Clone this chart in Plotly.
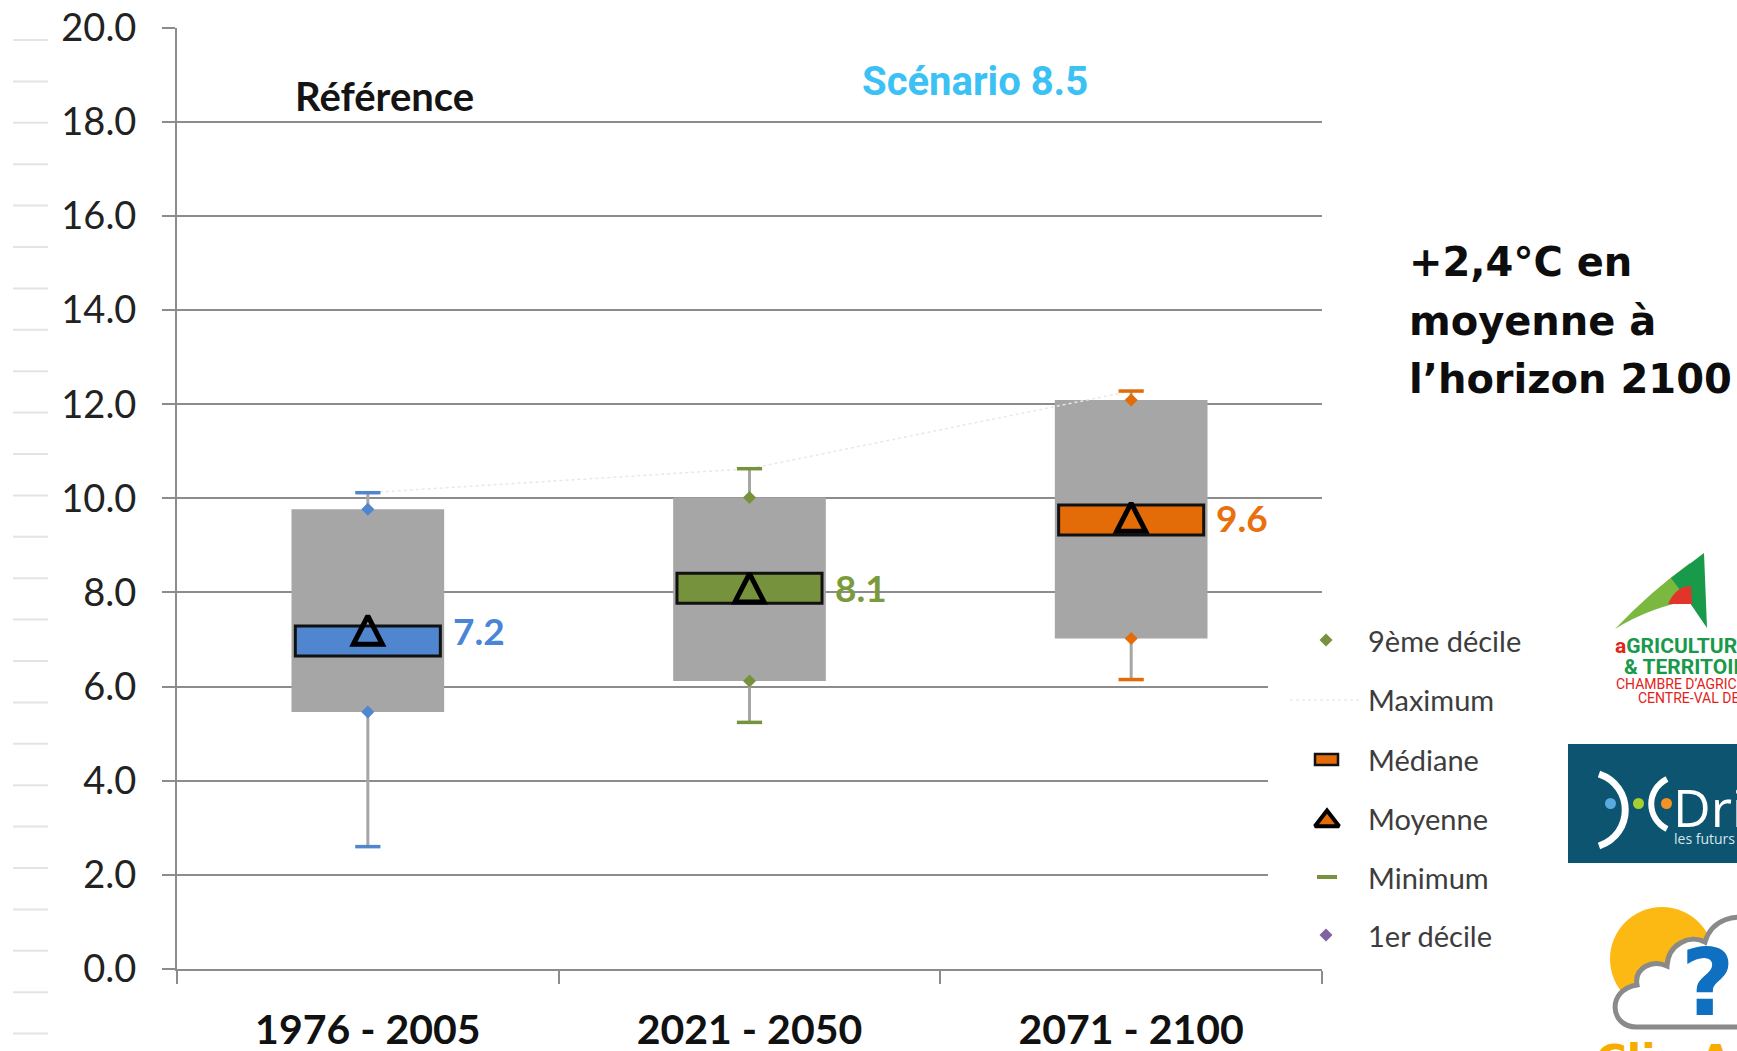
import plotly.graph_objects as go

# ---- data -------------------------------------------------------------
periods = ["1976 - 2005", "2021 - 2050", "2071 - 2100"]
minimum = [2.60, 5.24, 6.15]
decile_1 = [5.46, 6.12, 7.02]
median = [6.97, 8.09, 9.54]
mean = [7.2, 8.1, 9.6]
decile_9 = [9.77, 10.02, 12.09]
maximum = [10.12, 10.63, 12.28]

y_ticks = [0, 2, 4, 6, 8, 10, 12, 14, 16, 18, 20]
legend_labels = ["9ème décile", "Maximum", "Médiane", "Moyenne", "Minimum", "1er décile"]

# ---- styles -----------------------------------------------------------
W, H = 1737, 1051
AXIS = "#8c8c8c"
BOX_GREY = "#a6a6a6"
period_colors = ["#4f86cf", "#76923c", "#e36c09"]
label_colors = ["#4a86d6", "#7a9a3c", "#e8700f"]
MED_HALF = 0.32      # half height of the median band (value units)
TRI_HALF_W = 0.038   # half width of the mean triangle (category units)
TRI_HALF_H = 0.30    # half height of the mean triangle (value units)

xs = list(range(len(periods)))

fig = go.Figure()

# faint dotted line joining the maxima
fig.add_trace(go.Scatter(x=xs, y=maximum, mode="lines",
                         line=dict(color="#e8e8e8", width=1.5, dash="dot"),
                         hoverinfo="skip", showlegend=False))

# grey box: 1st to 9th decile
fig.add_trace(go.Bar(x=xs, y=[d9 - d1 for d1, d9 in zip(decile_1, decile_9)],
                     base=decile_1, width=0.4,
                     marker=dict(color=BOX_GREY, line=dict(width=0)),
                     hoverinfo="skip", showlegend=False))

# median band
fig.add_trace(go.Bar(x=xs, y=[2 * MED_HALF] * len(xs),
                     base=[m - MED_HALF for m in median], width=0.38,
                     marker=dict(color=period_colors, line=dict(color="#111111", width=3)),
                     hoverinfo="skip", showlegend=False))

# whiskers
wx, wy = [], []
for i in xs:
    wx += [i, i, None, i, i, None]
    wy += [minimum[i], decile_1[i], None, decile_9[i], maximum[i], None]
fig.add_trace(go.Scatter(x=wx, y=wy, mode="lines",
                         line=dict(color=BOX_GREY, width=3),
                         hoverinfo="skip", showlegend=False))

# caps at min / max
fig.add_trace(go.Scatter(x=xs + xs, y=minimum + maximum, mode="markers",
                         marker=dict(symbol="line-ew", size=18,
                                     line=dict(color=period_colors * 2, width=3.5)),
                         hoverinfo="skip", showlegend=False))

# decile dots
fig.add_trace(go.Scatter(x=xs + xs, y=decile_1 + decile_9, mode="markers",
                         marker=dict(symbol="diamond", size=10, color=period_colors * 2),
                         hoverinfo="skip", showlegend=False))

# mean triangles
tx, ty = [], []
for i, m in zip(xs, mean):
    tx += [i - TRI_HALF_W, i, i + TRI_HALF_W, i - TRI_HALF_W, i, None]
    ty += [m - TRI_HALF_H, m + TRI_HALF_H, m - TRI_HALF_H, m - TRI_HALF_H, m + TRI_HALF_H, None]
fig.add_trace(go.Scatter(x=tx, y=ty, mode="lines",
                         line=dict(color="#000000", width=5),
                         hoverinfo="skip", showlegend=False))

# mean value labels
annotations = []
for i, m in zip(xs, mean):
    annotations.append(dict(x=i, y=m, xref="x", yref="y", text=f"{m:.1f}",
                            showarrow=False, xanchor="left", yanchor="middle", xshift=83,
                            font=dict(family="Lato", size=37, color=label_colors[i], weight="bold")))

# ---- decorations on a pixel-based overlay axis -------------------------
def px_text(x, y, text, size, color, family="Lato", weight="normal", anchor="left", yshift=0):
    return dict(x=x, y=y, xref="x2", yref="y2", text=text, showarrow=False,
                xanchor=anchor, yanchor="middle", yshift=yshift,
                font=dict(family=family, size=size, color=color, weight=weight))

annotations += [
    px_text(384, 96, "Référence", 40, "#141414", weight="bold", anchor="center"),
    px_text(975, 81, "Scénario 8.5", 40, "#3cc1f4", family="Roboto", weight="bold", anchor="center"),
    px_text(1407, 262, "+2,4°C en", 40, "#0d0d0d", family="DejaVu Sans", weight="bold"),
    px_text(1407, 321, "moyenne à", 40, "#0d0d0d", family="DejaVu Sans", weight="bold"),
    px_text(1407, 379, "l’horizon 2100", 40, "#0d0d0d", family="DejaVu Sans", weight="bold"),
]

legend_rows = [640, 699, 759, 818, 877, 935]
for lab, ly in zip(legend_labels, legend_rows):
    annotations.append(px_text(1366, ly, lab, 29, "#3d3d3d"))

shapes = []
# faint ruler marks on the far left
for k in range(25):
    yy = 40 + 41.4 * k
    shapes.append(dict(type="line", xref="x2", yref="y2", x0=13, x1=48, y0=yy, y1=yy,
                       line=dict(color="#e4e4e4", width=2), layer="below"))
# white backing of the legend
shapes.append(dict(type="rect", xref="x2", yref="y2", x0=1268, x1=1330, y0=612, y1=955,
                   fillcolor="white", line=dict(width=0), layer="below"))
# legend swatches
shapes.append(dict(type="line", xref="x2", yref="y2", x0=1290, x1=1362, y0=700, y1=700,
                   line=dict(color="#ececec", width=1.5, dash="dot"), layer="below"))
shapes.append(dict(type="rect", xref="x2", yref="y2", x0=1315, x1=1338, y0=754, y1=765,
                   fillcolor="#e36c09", line=dict(color="#111111", width=2.5), layer="below"))
shapes.append(dict(type="line", xref="x2", yref="y2", x0=1317, x1=1337, y0=877, y1=877,
                   line=dict(color="#76923c", width=4), layer="below"))

fig.add_trace(go.Scatter(x=[1326, 1326], y=[640, 935], xaxis="x2", yaxis="y2", mode="markers",
                         marker=dict(symbol="diamond", size=10, color=["#76923c", "#8064a2"]),
                         hoverinfo="skip", showlegend=False))
fig.add_trace(go.Scatter(x=[1327], y=[821], xaxis="x2", yaxis="y2", mode="markers",
                         marker=dict(symbol="triangle-up", size=21, color="#e36c09",
                                     line=dict(color="#000000", width=4)),
                         hoverinfo="skip", showlegend=False))

# Chambre d'agriculture logo
shapes += [
    dict(type="path", xref="x2", yref="y2", layer="below",
         path="M 1615 629 Q 1650 592 1690 563 L 1694 600 Q 1652 606 1615 629 Z",
         fillcolor="#7ab83f", line=dict(width=0)),
    dict(type="path", xref="x2", yref="y2", layer="below",
         path="M 1671 578 L 1704 553 L 1707 628 L 1692 606 Z",
         fillcolor="#19994a", line=dict(width=0)),
    dict(type="path", xref="x2", yref="y2", layer="below",
         path="M 1668 604 Q 1676 586 1691 586 L 1692 604 Z",
         fillcolor="#e2342a", line=dict(width=0)),
]
narrow = "Liberation Sans Narrow, Roboto, sans-serif"
annotations += [
    px_text(1613, 646, "<span style='color:#e2231a'>a</span>GRICULTURE", 21, "#19994a",
            family=narrow, weight="bold"),
    px_text(1622, 667, "&amp; TERRITOIRE", 21, "#19994a", family=narrow, weight="bold"),
    px_text(1614, 684, "CHAMBRE D’AGRICULTU", 14, "#e2231a", family=narrow),
    px_text(1636, 698, "CENTRE-VAL DE LOI", 14, "#e2231a", family=narrow),
]

# DRIAS logo
shapes += [
    dict(type="rect", xref="x2", yref="y2", x0=1568, x1=1745, y0=744, y1=863,
         fillcolor="#0c5470", line=dict(width=0), layer="below"),
    dict(type="path", xref="x2", yref="y2", layer="below",
         path="M 1599 774 C 1634 786 1634 834 1599 846",
         line=dict(color="white", width=7)),
    dict(type="path", xref="x2", yref="y2", layer="below",
         path="M 1667 779 C 1646 790 1646 818 1667 829",
         line=dict(color="white", width=6)),
    dict(type="circle", xref="x2", yref="y2", x0=1605, x1=1616, y0=798, y1=809,
         fillcolor="#5aa9e0", line=dict(width=0), layer="below"),
    dict(type="circle", xref="x2", yref="y2", x0=1633, x1=1644, y0=798, y1=809,
         fillcolor="#a8cf2f", line=dict(width=0), layer="below"),
    dict(type="circle", xref="x2", yref="y2", x0=1661, x1=1672, y0=798, y1=809,
         fillcolor="#f39323", line=dict(width=0), layer="below"),
]
annotations += [
    px_text(1671, 806, "Dri", 52, "white", family="Open Sans"),
    px_text(1672, 838, "les futurs d", 14, "#d6e6ec", family="Open Sans"),
]

# ClimA-XXI logo
shapes += [
    dict(type="circle", xref="x2", yref="y2", x0=1610, x1=1714, y0=907, y1=1011,
         fillcolor="#fdb913", line=dict(width=0), layer="below"),
    dict(type="path", xref="x2", yref="y2", layer="below",
         path=("M 1745 1027 L 1636 1027 C 1610 1027 1606 990 1637 985 "
               "C 1634 968 1652 959 1667 966 C 1668 944 1690 934 1705 942 "
               "C 1712 918 1737 914 1750 920 Z"),
         fillcolor="white", line=dict(color="#8a8a8a", width=5)),
]
annotations += [
    px_text(1707, 983, "?", 92, "#0f6fc0", family="DejaVu Sans", weight="bold", anchor="center"),
    px_text(1594, 1048, "<span style='color:#f7ad00'>ClimA</span> <span style='color:#0f6fc0'>XXI</span>",
            42, "#f7ad00", family="DejaVu Sans", weight="bold", yshift=-12),
]

# ---- layout -----------------------------------------------------------
fig.update_layout(
    width=W, height=H,
    margin=dict(l=0, r=0, t=0, b=0, autoexpand=False),
    paper_bgcolor="white",
    plot_bgcolor="rgba(0,0,0,0)",
    barmode="overlay",
    showlegend=False,
    hovermode=False,
    xaxis=dict(
        domain=[177 / W, 1322 / W], range=[-0.5, len(xs) - 0.5],
        tickmode="array", tickvals=xs, ticktext=periods, ticks="",
        showgrid=False, zeroline=False, automargin=False,
        showline=True, linecolor=AXIS, linewidth=2,
        tickfont=dict(family="Lato", size=41, color="#111111", weight="bold"),
        ticklabelstandoff=24,
        minor=dict(tickmode="array", tickvals=[i - 0.5 for i in range(len(xs) + 1)],
                   ticks="outside", ticklen=13, tickwidth=2, tickcolor=AXIS, showgrid=False),
        fixedrange=True, anchor="y",
    ),
    yaxis=dict(
        domain=[1 - 969 / H, 1 - 27.7 / H], range=[0, 20],
        tickmode="array", tickvals=y_ticks, tickformat=".1f",
        showgrid=True, gridcolor=AXIS, gridwidth=2, zeroline=False, automargin=False,
        showline=True, linecolor=AXIS, linewidth=2,
        ticks="outside", ticklen=13, tickwidth=2, tickcolor=AXIS,
        tickfont=dict(family="Lato", size=38, color="#222222"),
        ticklabelstandoff=18,
        fixedrange=True, anchor="x",
    ),
    xaxis2=dict(domain=[0, 1], range=[0, W], visible=False, anchor="y2",
                fixedrange=True, automargin=False),
    yaxis2=dict(domain=[0, 1], range=[H, 0], visible=False, anchor="x2",
                fixedrange=True, automargin=False),
    annotations=annotations,
    shapes=shapes,
)

fig.write_html("out.html")
